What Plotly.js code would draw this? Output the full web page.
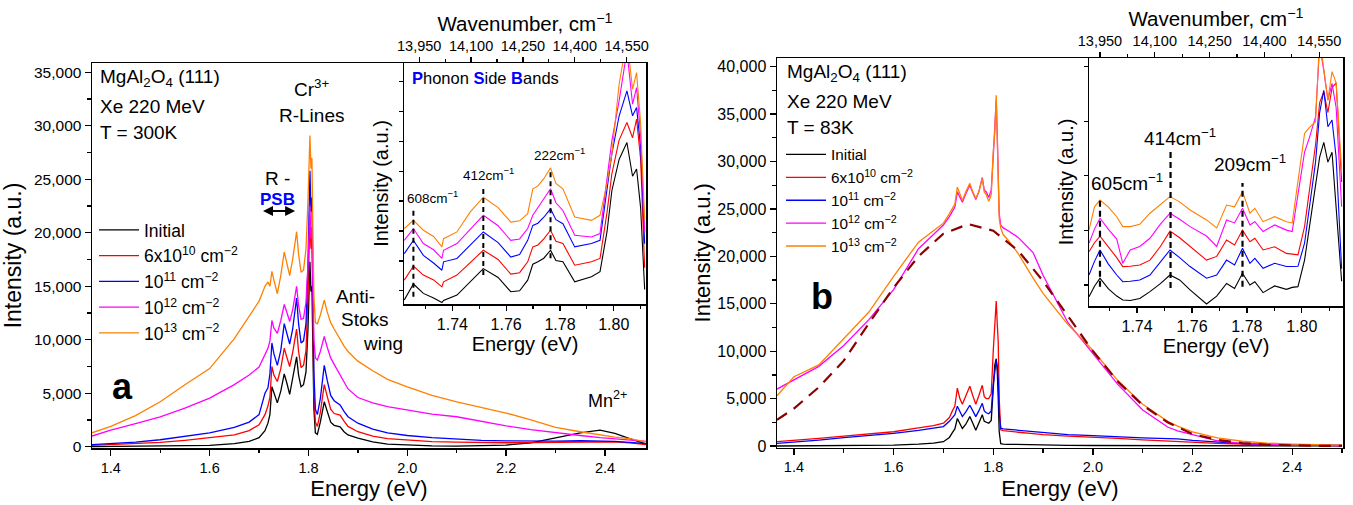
<!DOCTYPE html>
<html><head><meta charset="utf-8">
<script src="https://cdn.plot.ly/plotly-3.0.1.min.js"></script>
<style>html,body{margin:0;padding:0;background:#fff}#chart{width:1353px;height:505px}</style>
</head><body><div id="chart"></div>
<script>
// ---------------- DATA ----------------
const seriesNames = ['Initial', '6x10<sup>10</sup> cm<sup>\u22122</sup>', '10<sup>11</sup> cm<sup>\u22122</sup>', '10<sup>12</sup> cm<sup>\u22122</sup>', '10<sup>13</sup> cm<sup>\u22122</sup>'];

// Panel a (T = 300K), main spectra
const energyA = [1.362,1.40,1.45,1.50,1.55,1.60,1.65,1.68,1.70,1.712,1.718,1.722,1.726,1.730,1.737,1.744,1.751,1.756,1.762,1.768,1.772,1.776,1.780,1.785,1.790,1.795,1.799,1.801,1.803,1.805,1.807,1.809,1.811,1.814,1.818,1.824,1.828,1.832,1.838,1.845,1.852,1.858,1.864,1.872,1.88,1.90,1.93,1.96,2.00,2.05,2.10,2.15,2.20,2.25,2.30,2.35,2.39,2.42,2.45,2.483];
const initialA = [10,20,30,50,80,130,280,500,840,1500,2200,3000,5600,5000,4100,5200,6800,6000,4900,6400,7400,8400,6700,5600,5800,7000,11000,15500,17300,14500,15000,9000,3500,1300,1150,2300,3400,4200,3300,2300,2000,1950,1850,1400,1100,800,450,250,150,80,60,80,150,350,830,1300,1550,1250,750,250];
const dose6e10A = [120,180,280,400,600,840,1100,1500,2050,3000,3800,4600,7500,6700,6100,7300,9200,8400,7500,8800,9900,11000,8900,7400,7600,9000,14000,19000,21500,18500,19500,12000,5000,2300,1900,3200,4600,5800,4700,3500,3100,3000,2950,2400,1900,1400,1000,750,600,480,420,380,370,380,420,460,480,450,350,200];
const dose1e11A = [200,280,430,650,950,1300,1800,2300,3000,5000,5500,6800,9700,8700,7600,9000,11500,10600,9600,11000,12300,13900,11500,9700,9900,11500,17000,23000,25800,22000,23300,15000,7000,3500,3000,4500,6200,7600,6200,4800,4300,4100,3900,3300,2800,2200,1650,1300,1050,850,700,600,550,520,530,560,560,500,400,280];
const dose1e12A = [1000,1550,2150,2800,3600,4550,5800,6700,7450,8600,9200,9900,11800,11100,10600,11800,13300,12600,11700,12800,14000,15000,13200,11900,12000,13500,17000,20500,22500,19500,20500,15000,10000,8300,8100,8900,9700,10300,9300,8300,7700,7200,6700,6000,5400,4600,4100,3750,3450,3050,2800,2350,1950,1600,1300,1050,850,750,650,500];
const dose1e13A = [1300,1900,2900,4200,5800,7300,10100,12200,13600,15000,15400,15000,16400,15600,14300,16000,18200,17200,16000,17500,18800,20100,18000,16300,16500,18500,23000,27000,29100,26000,27000,20000,14000,11600,11500,12300,13100,13700,12600,11600,11000,10500,10000,9400,8900,8000,7100,6300,5600,4800,4200,3650,3150,2500,1800,1400,1100,900,750,450];

// Panel a inset (Phonon Side Bands), offset spectra, a.u.
const insetEnergyA = [1.7221,1.7255,1.7292,1.733,1.7361,1.7367,1.7417,1.7465,1.7515,1.757,1.7617,1.765,1.768,1.7699,1.7718,1.774,1.7765,1.7785,1.7811,1.7855,1.7917,1.7949,1.7975,1.7993,1.802,1.8049,1.807,1.8085,1.810,1.8115];
const insInitialA = [1.7,8.3,4.4,2.5,0.6,1.5,3.7,9,14.7,11,5.1,5.5,9.9,16.5,17.5,19,22.3,18,17.5,9.2,11.3,13.4,30,47,60,67,53,56,40,6];
const ins6e10A = [9.9,15.7,12,10,7.1,9.2,12,17,22.3,18.5,12.4,13,17.5,23.7,24.5,27,30.6,26,25.1,16.1,17.5,18.9,38,54,68,75.3,69,76.7,60,15];
const ins1e11A = [20.9,26.4,20.2,17,14,17.5,18.9,24.5,29.9,25.5,19.5,20.5,26.4,32.6,33.5,36,39.5,35,33.3,23.7,25.1,26.4,48,62.3,78,88.4,78.1,81.5,65,25];
const ins1e12A = [26.4,31.3,25.1,22.5,18.9,22.3,25.1,31,36.8,32.5,26.4,27,31.3,36.8,40,44,47.8,42,38.8,28.5,27.8,29.2,52,67.8,84.3,105,82.9,89.8,70,30];
const ins1e13A = [31.3,34.7,30.6,28,23.7,27.1,29.9,38,44.3,40,34,34.5,37.5,47.8,49,52,56.5,50,47.8,36.1,34.7,36.8,50,62.3,91.2,110,89.1,96,75,35];
const psbEnergyA = [1.7255,1.7515,1.7765];
const psbLowA = [3,12,19];
const psbHighA = [40.2,47.9,56.2];
const psbLabelA = ['608cm<sup>\u22121</sup>','412cm<sup>\u22121</sup>','222cm<sup>\u22121</sup>'];

// Panel b (T = 83K), main spectra
const energyB = [1.366,1.40,1.45,1.50,1.55,1.60,1.65,1.68,1.70,1.712,1.718,1.723,1.728,1.733,1.738,1.745,1.753,1.759,1.765,1.771,1.774,1.778,1.782,1.786,1.791,1.796,1.800,1.803,1.806,1.808,1.810,1.812,1.815,1.82,1.83,1.85,1.88,1.90,1.95,2.00,2.05,2.10,2.15,2.17,2.20,2.25,2.30,2.35,2.40,2.45,2.50];
const initialB = [0,10,20,40,60,100,200,300,450,900,1400,1800,2900,2300,1850,2300,3100,2400,1650,2400,2800,3300,2600,2500,2400,2700,6000,8500,9200,8000,5000,1500,250,200,180,150,100,80,60,50,40,40,30,30,30,30,20,20,20,10,10];
const dose6e10B = [450,580,800,1050,1280,1500,1900,2150,2400,3000,3700,4200,6100,5000,4400,5300,6300,5300,4400,5300,5700,6400,5200,5000,5000,5500,10000,12500,15300,13000,11000,5000,1700,1620,1550,1450,1300,1200,1050,950,800,650,500,450,380,280,200,150,100,80,50];
const dose1e11B = [280,400,620,880,1100,1340,1650,1850,2050,2600,3000,3300,4200,3600,3100,3600,4300,3700,3100,3700,4000,4500,3700,3500,3400,3700,6500,7800,9000,8400,7000,3500,1870,1800,1750,1650,1500,1400,1200,1100,950,850,780,760,600,400,250,180,120,80,50];
const dose1e12B = [6000,7000,8400,10600,13300,16500,20800,22300,23300,24200,24800,25200,26800,26200,25700,26600,27500,26700,26000,26800,27500,28300,27000,26800,26200,27000,30500,33000,36500,33000,29500,24500,23300,23000,22700,22000,20400,18000,13000,9800,6500,3800,2000,1600,1200,550,250,150,100,80,50];
const dose1e13B = [5300,7300,8550,11300,14100,17900,21500,22700,23500,24500,25000,25500,27300,26500,25900,26800,27700,26800,26100,26800,27500,28200,26800,26500,25800,26500,31000,33000,37000,33500,30000,24000,23000,22300,21700,20300,17700,16100,12800,10100,6900,4400,2600,2100,1500,850,500,300,200,120,80];
const fitEnergyB = [1.366,1.40,1.45,1.50,1.55,1.60,1.65,1.70,1.75,1.80,1.85,1.90,1.95,2.00,2.05,2.10,2.15,2.20,2.25,2.30,2.35,2.40,2.45,2.50];
const fitB = [2750,3950,6200,9000,12900,16700,20000,22400,23400,22700,20600,17400,13700,10000,6800,4300,2500,1250,650,300,130,50,20,10];

// Panel b inset
const insetEnergyB = [1.7225,1.7245,1.7265,1.7295,1.7326,1.7348,1.7375,1.741,1.7447,1.7485,1.752,1.7555,1.7593,1.7653,1.769,1.7726,1.7755,1.7784,1.7811,1.7829,1.7859,1.7901,1.7944,1.7965,1.7986,1.801,1.8028,1.805,1.8065,1.808,1.8095,1.811,1.8125,1.8145];
const insInitialB = [3.75,8,11.2,7,4,2.4,2.2,3,5.8,9,12.5,10.5,6.5,0.8,4,9.1,7.1,13.2,8.5,9.8,5.4,8.1,6.7,7.5,7.8,18.5,32,49.5,60,66,58,62,40,10];
const ins6e10B = [21.9,25.5,28.2,24,19.5,15.9,16,16.5,18.5,24,30.2,27.5,23.9,18.5,20,26.6,24.6,30.6,25.9,27.3,22.6,23.9,21.2,20.8,20.6,32,46.8,65,82,86.4,78,88,90,50];
const ins1e11B = [12.5,18,22.6,17,12.5,9.8,10,10.5,12.5,18,22.6,19.5,15.9,11.2,12.5,18.5,16.5,23.3,17.2,19.2,15.2,17.2,15.9,15.9,16,25.3,40,58,78,87,72.3,75,60,15];
const ins1e12B = [25.3,31,35.4,31,27,17.2,22.6,24,27.3,33,37.4,35,32,28.2,24,34.7,33.5,39.4,32.7,34,30,32.7,30.6,30,45,62,68,76.3,105,95,83,89.8,80,40];
const ins1e13B = [30.6,40,42.7,40,36,32,32,33,37.4,41,44.1,42,38.7,34.7,31.5,40.7,40,46.1,37.4,39.4,34,36,34,33.5,50,69.6,72,74.3,108,95,83,94.5,90,55];
const psbEnergyB = [1.7265,1.7522,1.7784];
const psbLowB = [7.8,7.3,7.8];
const psbHighB = [42.7,63.7,49.6];
const psbLabelB = ['605cm<sup>\u22121</sup>','414cm<sup>\u22121</sup>','209cm<sup>\u22121</sup>'];

const wavenumberTicks = [13950,14100,14250,14400,14550];
const energyTicksMain = [1.4,1.6,1.8,2.0,2.2,2.4];
const energyTicksInset = [1.74,1.76,1.78,1.80];

// ---------------- STYLE ----------------
const colors = ['#000000','#ff0000','#0000ff','#ff00ff','#ff8000'];
const FONT = 'Liberation Sans, Arial, Helvetica, sans-serif';
const W = 1353, H = 505;
const fx = p => p / W, fy = p => 1 - p / H;

const traces = [];
function addSet(xs, ysList, xa, ya, legendId, showLeg, width) {
  ysList.forEach((ys, i) => traces.push({
    type: 'scatter', mode: 'lines', x: xs, y: ys, xaxis: xa, yaxis: ya,
    name: seriesNames[i], legend: legendId, showlegend: showLeg,
    line: {color: colors[i], width: width}, hoverinfo: 'skip'
  }));
}
addSet(energyA, [initialA, dose6e10A, dose1e11A, dose1e12A, dose1e13A], 'x', 'y', 'legend', true, 1.3);
addSet(insetEnergyA, [insInitialA, ins6e10A, ins1e11A, ins1e12A, ins1e13A], 'x2', 'y2', 'legend', false, 1.1);
addSet(energyB, [initialB, dose6e10B, dose1e11B, dose1e12B, dose1e13B], 'x4', 'y4', 'legend2', true, 1.3);
traces.push({type:'scatter', mode:'lines', x: fitEnergyB, y: fitB, xaxis:'x4', yaxis:'y4', showlegend:false,
  line:{color:'#8b0000', width:2.2, dash:'12px,8px'}, hoverinfo:'skip'});
addSet(insetEnergyB, [insInitialB, ins6e10B, ins1e11B, ins1e12B, ins1e13B], 'x5', 'y5', 'legend2', false, 1.1);
// empty carriers so the top wavenumber axes are drawn
[['x3','y2'],['x6','y5']].forEach(([xa, ya]) => traces.push({type:'scatter', mode:'markers', x: wavenumberTicks,
  y: wavenumberTicks.map(() => null), xaxis: xa, yaxis: ya, showlegend:false, marker:{opacity:0}, hoverinfo:'skip'}));

function baseAxis(extra) {
  return Object.assign({
    showline: true, linewidth: 1.5, linecolor: '#000', mirror: true,
    showgrid: false, zeroline: false, ticks: 'outside', ticklen: 6, tickwidth: 1.3, tickcolor: '#000',
    automargin: false, fixedrange: true
  }, extra);
}

const layout = {
  width: W, height: H, margin: {l:0, r:0, t:0, b:0},
  paper_bgcolor: '#fff', plot_bgcolor: 'rgba(0,0,0,0)',
  font: {family: FONT, color: '#000', size: 15},
  hovermode: false,
  // Panel a main
  xaxis: baseAxis({domain:[fx(92), fx(646)], anchor:'y', range:[1.362, 2.483], tickvals: energyTicksMain, tickformat:'.1f',
    minor:{dtick:0.1, ticklen:3.5, ticks:'outside', tickwidth:1.3, tickcolor:'#000'}, tickfont:{size:14.5},
    title:{text:'Energy (eV)', font:{size:22}, standoff:1}}),
  yaxis: baseAxis({domain:[fy(448), fy(63)], anchor:'x', range:[-120, 35870], dtick:5000, tick0:0, tickformat:',',
    minor:{dtick:2500, ticklen:3.5, ticks:'outside', tickwidth:1.3, tickcolor:'#000'}, tickfont:{size:15.5},
    title:{text:'Intensity (a.u.)', font:{size:23}, standoff:6}}),
  // Panel a inset
  xaxis2: baseAxis({domain:[fx(404), fx(646)], anchor:'y2', range:[1.722, 1.812], tickvals: energyTicksInset, tickformat:'.2f',
    ticklen:5, minor:{dtick:0.01, tick0:0, ticklen:3, ticks:'outside', tickwidth:1.2, tickcolor:'#000'}, tickfont:{size:16},
    title:{text:'Energy (eV)', font:{size:20}, standoff:0}}),
  yaxis2: baseAxis({domain:[fy(304), fy(63)], anchor:'x2', range:[0, 100], tick0:5.5, dtick:12.4, ticklen:4, showticklabels:false,
    title:{text:'Intensity (a.u.)', font:{size:20}, standoff:4}}),
  xaxis3: baseAxis({overlaying:'x2', anchor:'y2', side:'top', range:[13906, 14606], tickvals: wavenumberTicks, tickformat:',',
    ticklen:5, mirror:false, minor:{dtick:75, tick0:13950, ticklen:3, ticks:'outside', tickwidth:1.2, tickcolor:'#000'}, tickfont:{size:14.5},
    title:{text:'Wavenumber, cm<sup>\u22121</sup>', font:{size:20.5}, standoff:0}}),
  // Panel b main
  xaxis4: baseAxis({domain:[fx(777), fx(1343)], anchor:'y4', range:[1.366, 2.502], tickvals: energyTicksMain, tickformat:'.1f',
    minor:{dtick:0.1, ticklen:3.5, ticks:'outside', tickwidth:1.3, tickcolor:'#000'}, tickfont:{size:14.5},
    title:{text:'Energy (eV)', font:{size:22}, standoff:6}}),
  yaxis4: baseAxis({domain:[fy(447.5), fy(58)], anchor:'x4', range:[-160, 40920], dtick:5000, tick0:0, tickformat:',',
    minor:{dtick:2500, ticklen:3.5, ticks:'outside', tickwidth:1.3, tickcolor:'#000'}, tickfont:{size:16},
    title:{text:'Intensity (a.u.)', font:{size:22}}}),
  // Panel b inset
  xaxis5: baseAxis({domain:[fx(1089), fx(1343)], anchor:'y5', range:[1.7225, 1.815], tickvals: energyTicksInset, tickformat:'.2f',
    ticklen:5, minor:{dtick:0.01, tick0:0, ticklen:3, ticks:'outside', tickwidth:1.2, tickcolor:'#000'}, tickfont:{size:16},
    title:{text:'Energy (eV)', font:{size:20}, standoff:3}}),
  yaxis5: baseAxis({domain:[fy(306), fy(58)], anchor:'x5', range:[0, 100], tick0:8.5, dtick:22, ticklen:4, showticklabels:false,
    title:{text:'Intensity (a.u.)', font:{size:20}, standoff:4}}),
  xaxis6: baseAxis({overlaying:'x5', anchor:'y5', side:'top', range:[13920, 14615], tickvals: wavenumberTicks, tickformat:',',
    ticklen:5, mirror:false, minor:{dtick:75, tick0:13950, ticklen:3, ticks:'outside', tickwidth:1.2, tickcolor:'#000'}, tickfont:{size:14.5},
    title:{text:'Wavenumber, cm<sup>\u22121</sup>', font:{size:20.5}, standoff:0}}),
  legend: {x: fx(94), y: fy(212), xanchor:'left', yanchor:'top', bgcolor:'rgba(0,0,0,0)', borderwidth:0,
    font:{size:17.5}, tracegroupgap:0, itemwidth:40},
  legend2: {x: fx(781), y: fy(138), xanchor:'left', yanchor:'top', bgcolor:'rgba(0,0,0,0)', borderwidth:0,
    font:{size:15.3}, tracegroupgap:0, itemwidth:40},
  shapes: [],
  annotations: []
};

// Vertical dashed markers for the phonon side bands
psbEnergyA.forEach((e, i) => layout.shapes.push({type:'line', xref:'x2', yref:'y2', x0:e, x1:e, y0:psbLowA[i], y1:psbHighA[i],
  line:{color:'#000', width:2, dash:'5px,4px'}}));
psbEnergyB.forEach((e, i) => layout.shapes.push({type:'line', xref:'x5', yref:'y5', x0:e, x1:e, y0:psbLowB[i], y1:psbHighB[i],
  line:{color:'#000', width:2.2, dash:'6px,4px'}}));

function ann(xref, yref, x, y, text, size, xanchor, extra) {
  layout.annotations.push(Object.assign({xref, yref, x, y, text, showarrow:false, xanchor: xanchor || 'center', yanchor:'middle',
    font:{size: size, family: FONT, color:'#000'}}, extra || {}));
}
// Panel a texts
ann('x','y',1.3737,34460,'MgAl<sub>2</sub>O<sub>4</sub> (111)',19,'left');
ann('x','y',1.3737,31850,'Xe 220 MeV',19,'left');
ann('x','y',1.3737,29420,'T = 300K',19,'left');
ann('x','y',1.806,33530,'Cr<sup>3+</sup>',19);
ann('x','y',1.806,30920,'R-Lines',19);
ann('x','y',1.737,25100,'R -',19);
ann('x','y',1.737,23070,'<b>PSB</b>',17,'center',{font:{size:17, family:FONT, color:'#0000ff'}});
layout.annotations.push({xref:'x', yref:'y', axref:'x', ayref:'y', x:1.773, y:22040, ax:1.705, ay:22040, text:'',
  showarrow:true, arrowhead:2, startarrowhead:2, arrowside:'end+start', arrowwidth:2, arrowsize:1, startarrowsize:1, arrowcolor:'#000'});
ann('x','y',1.8525,14010,'Anti-',19,'left');
ann('x','y',1.8626,11860,'Stoks',19,'left');
ann('x','y',1.907,9620,'wing',19,'left');
ann('x','y',1.424,5600,'<b>a</b>',36);
ann('x','y',2.3616,4390,'Mn<sup>2+</sup>',18,'left');
// Panel a inset texts
ann('x2','y2',1.7243,93.8,'<span style="color:#0000ff"><b>P</b></span>honon <span style="color:#0000ff"><b>S</b></span>ide <span style="color:#0000ff"><b>B</b></span>ands',16.5,'left');
const labelPosA = [[1.7327,44.3],[1.7533,54],[1.7799,62.3]];
psbLabelA.forEach((t, i) => ann('x2','y2',labelPosA[i][0],labelPosA[i][1],t,13.5));
// Panel b texts
ann('x4','y4',1.3819,39350,'MgAl<sub>2</sub>O<sub>4</sub> (111)',19,'left');
ann('x4','y4',1.3819,36290,'Xe 220 MeV',19,'left');
ann('x4','y4',1.3819,33550,'T = 83K',19,'left');
ann('x4','y4',1.4562,15720,'<b>b</b>',36);
const labelPosB = [[1.7363,50.1],[1.7556,68.3],[1.7811,57.7]];
psbLabelB.forEach((t, i) => ann('x5','y5',labelPosB[i][0],labelPosB[i][1],t,19));

Plotly.newPlot('chart', traces, layout, {staticPlot:true, displayModeBar:false});
</script></body></html>
